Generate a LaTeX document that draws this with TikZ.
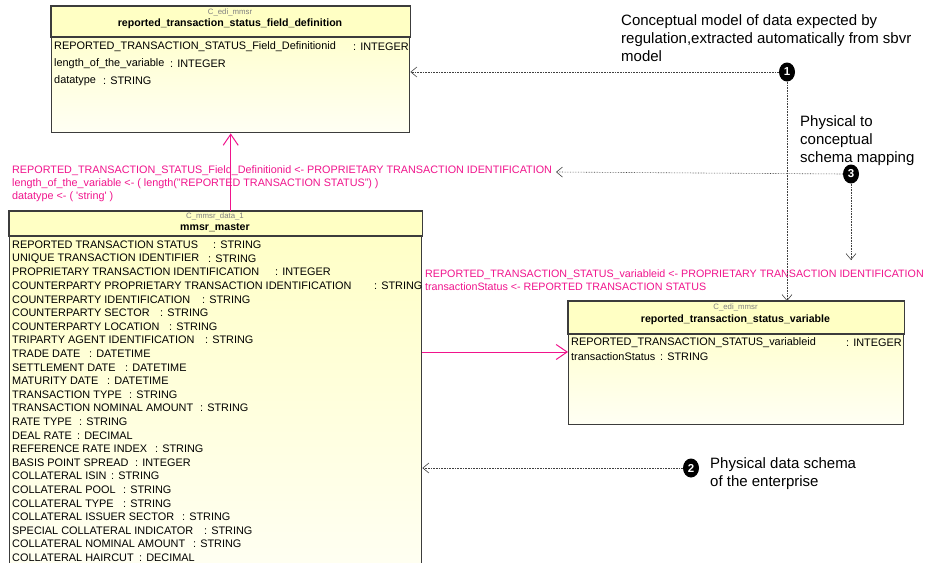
\documentclass[tikz,border=0pt]{standalone}
\usepackage{fontspec}
\setmainfont{Liberation Sans}
\usetikzlibrary{arrows.meta,shapes.geometric,positioning}
\definecolor{mappink}{RGB}{240,20,140}
\definecolor{umlhead}{RGB}{255,255,196}
\definecolor{umltop}{RGB}{255,255,196}
\definecolor{umlbot}{RGB}{255,255,244}
\definecolor{umlline}{RGB}{60,60,60}
\begin{document}
\begin{tikzpicture}[x=1pt,y=-1pt,
  umlbox/.style={draw=umlline,line width=1.4pt,top color=umltop,bottom color=umlbot,
    inner sep=0pt,anchor=north west},
  umlhdr/.style={fill=umlhead,draw=umlline,line width=1.4pt},
  stereo/.style={inner sep=0pt,text=gray,font=\fontsize{7.8}{9}\selectfont},
  classname/.style={inner sep=0pt,font=\bfseries\fontsize{10.6}{12}\selectfont},
  rowtext/.style={inner sep=0pt,anchor=west,font=\fontsize{10.9}{12}\selectfont},
  maplabel/.style={inner sep=0pt,anchor=west,align=left,text=mappink,font=\fontsize{10.8}{13}\selectfont},
  note/.style={inner sep=0pt,anchor=west,align=left,font=\fontsize{15}{18}\selectfont},
  marker/.style={ellipse,fill=black,text=white,inner sep=0pt,minimum width=16pt,minimum height=19pt,
    font=\bfseries\fontsize{11.5}{11}\selectfont},
  dotarrow/.style={densely dotted,line width=0.6pt,black!75,-{Straight Barb[length=6pt,width=10pt]}},
  maparrow/.style={mappink,line width=1pt,-{Straight Barb[length=11pt,width=15pt]}}]
\useasboundingbox (0,0) rectangle (928,562);

% conceptual class
\node[umlbox,minimum width=358pt,minimum height=126pt] (fielddef) at (51,6) {};
\draw[umlhdr] (fielddef.north west) rectangle (fielddef.east |- 0,37);
\node[stereo] (fieldster) at (230,12) {C\_edi\_mmsr};
\node[classname] (fieldname) at (230,24) {reported\_transaction\_status\_field\_definition};
\foreach \n/\c/\t [count=\i from 0] in {REPORTED\_TRANSACTION\_STATUS\_Field\_Definitionid/353/INTEGER,
    length\_of\_the\_variable/170/INTEGER, datatype/103/STRING} {
  \node[rowtext] (frow\i) at (54,47+17*\i) {\n};
  \node[rowtext] (ftype\i) at (\c,47+17*\i) {: \t};
}

% physical class
\node[umlbox,minimum width=412pt,minimum height=370pt] (master) at (9,211) {};
\draw[umlhdr] (master.north west) rectangle (master.east |- 0,236);
\node[stereo] (masterster) at (215,216) {C\_mmsr\_data\_1};
\node[classname] (mastername) at (215,227.5) {mmsr\_master};
\foreach \n/\c/\t [count=\i from 0] in {REPORTED TRANSACTION STATUS/213/STRING,
    UNIQUE TRANSACTION IDENTIFIER/208/STRING,
    PROPRIETARY TRANSACTION IDENTIFICATION/275/INTEGER,
    COUNTERPARTY PROPRIETARY TRANSACTION IDENTIFICATION/374/STRING,
    COUNTERPARTY IDENTIFICATION/202/STRING,
    COUNTERPARTY SECTOR/160/STRING,
    COUNTERPARTY LOCATION/169/STRING,
    TRIPARTY AGENT IDENTIFICATION/205/STRING,
    TRADE DATE/89/DATETIME,
    SETTLEMENT DATE/125/DATETIME,
    MATURITY DATE/107/DATETIME,
    TRANSACTION TYPE/129/STRING,
    TRANSACTION NOMINAL AMOUNT/200/STRING,
    RATE TYPE/79/STRING,
    DEAL RATE/77/DECIMAL,
    REFERENCE RATE INDEX/155/STRING,
    BASIS POINT SPREAD/135/INTEGER,
    COLLATERAL ISIN/111/STRING,
    COLLATERAL POOL/123/STRING,
    COLLATERAL TYPE/123/STRING,
    COLLATERAL ISSUER SECTOR/182/STRING,
    SPECIAL COLLATERAL INDICATOR/204/STRING,
    COLLATERAL NOMINAL AMOUNT/193/STRING,
    COLLATERAL HAIRCUT/139/DECIMAL} {
  \node[rowtext] (mrow\i) at (12,245+13.6*\i) {\n};
  \node[rowtext] (mtype\i) at (\c,245+13.6*\i) {: \t};
}

% target class
\node[umlbox,minimum width=335pt,minimum height=123pt] (statvar) at (568,301) {};
\draw[umlhdr] (statvar.north west) rectangle (statvar.east |- 0,334);
\node[stereo] (varster) at (735.5,307) {C\_edi\_mmsr};
\node[classname] (varname) at (735.5,320) {reported\_transaction\_status\_variable};
\foreach \n/\c/\t [count=\i from 0] in {REPORTED\_TRANSACTION\_STATUS\_variableid/846/INTEGER,
    transactionStatus/660/STRING} {
  \node[rowtext] (vrow\i) at (571,343+14*\i) {\n};
  \node[rowtext] (vtype\i) at (\c,343+14*\i) {: \t};
}

% mapping labels
\node[maplabel] (fieldmap) at (12,184) {REPORTED\_TRANSACTION\_STATUS\_Field\_Definitionid <- PROPRIETARY TRANSACTION IDENTIFICATION\\
  length\_of\_the\_variable <- ( length("REPORTED TRANSACTION STATUS") )\\
  datatype <- ( \textquotesingle string\textquotesingle\ )};
\node[maplabel,font=\fontsize{10.7}{13}\selectfont] (varmap) at (425,280.5) {REPORTED\_TRANSACTION\_STATUS\_variableid <- PROPRIETARY TRANSACTION IDENTIFICATION\\
  transactionStatus <- REPORTED TRANSACTION STATUS};
\draw[maparrow] (master.north -| fielddef.south) -- (fielddef.south);
\coordinate (mapin) at (568,352);
\draw[maparrow] (master.east |- mapin) -- (mapin);

% notes
\node[marker] (m1) at (787,72) {1};
\node[marker] (m2) at (691,468) {2};
\node[marker] (m3) at (851,174) {3};
\node[note] (note1) at (621,38) {Conceptual model of data expected by\\regulation,extracted automatically from sbvr\\model};
\node[note] (note2) at (710,474) {Physical data schema\\of the enterprise};
\node[note] (note3) at (800,141) {Physical to\\conceptual\\schema mapping};
\coordinate (m3left) at (556,172);
\coordinate (m3down) at (851,260);
\draw[dotarrow] (m1.west) -- (m1.west -| fielddef.east);
\draw[dotarrow] (m1.south) -- (m1.south |- statvar.north);
\draw[dotarrow] (m3.west) -- (m3left);
\draw[dotarrow] (m3.south) -- (m3down);
\draw[dotarrow] (m2.west) -- (m2.west -| master.east);
\end{tikzpicture}
\end{document}
